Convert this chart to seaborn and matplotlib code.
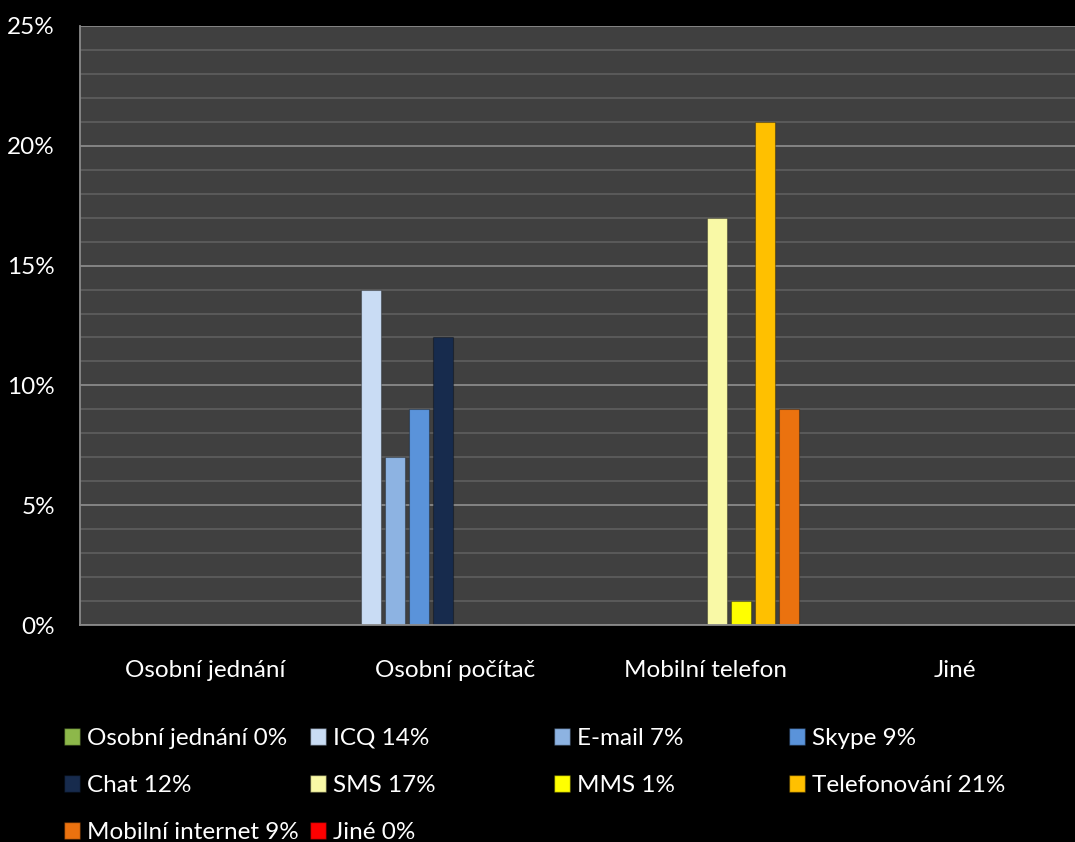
import matplotlib
matplotlib.use("Agg")
import matplotlib.pyplot as plt
import seaborn as sns
import pandas as pd
from matplotlib.ticker import MultipleLocator
from matplotlib.patches import Patch

categories = ["Osobní jednání", "Osobní počítač", "Mobilní telefon", "Jiné"]
series = ["Osobní jednání", "ICQ", "E-mail", "Skype", "Chat", "SMS", "MMS",
          "Telefonování", "Mobilní internet", "Jiné"]
series_category = ["Osobní jednání", "Osobní počítač", "Osobní počítač", "Osobní počítač",
                   "Osobní počítač", "Mobilní telefon", "Mobilní telefon", "Mobilní telefon",
                   "Mobilní telefon", "Jiné"]
values = [0, 14, 7, 9, 12, 17, 1, 21, 9, 0]
colors = ["#8DB84A", "#C9DCF4", "#8DB3E2", "#5A93DA", "#172B4D", "#F9F9A6",
          "#FFFF00", "#FFC000", "#EB720F", "#FF0000"]
ytick_labels = ["0%", "5%", "10%", "15%", "20%", "25%"]

rows = []
for s, c, v in zip(series, series_category, values):
    for cat in categories:
        rows.append({"category": cat, "series": s, "value": v if cat == c else 0})
df = pd.DataFrame(rows)

sns.set_theme(style="dark")
plt.rcParams["font.family"] = ["Lato", "DejaVu Sans"]

FS = 17.5
fig = plt.figure(figsize=(10.75, 8.42), dpi=100, facecolor="black")
ax = fig.add_axes([80 / 1075, 1 - 625 / 842, 1000 / 1075, (625 - 26) / 842])
ax.set_facecolor("#404040")

palette = dict(zip(series, colors))
sns.barplot(data=df, x="category", y="value", hue="series", order=categories,
            hue_order=series, palette=palette, width=0.96, gap=0.17,
            saturation=1, ax=ax, legend=False, errorbar=None,
            edgecolor="#00000050", linewidth=0.8)

ax.set_ylim(0, 25)
ax.yaxis.set_minor_locator(MultipleLocator(1))
ax.set_yticks([0, 5, 10, 15, 20, 25])
ax.set_yticklabels(ytick_labels)
ax.grid(True, which="major", axis="y", color="#8A8A8A", linewidth=1.3)
ax.grid(True, which="minor", axis="y", color="#5C5C5C", linewidth=1.3)
ax.grid(False, axis="x")
ax.set_axisbelow(True)
ax.set_xlim(-0.5, 3.5)

ax.tick_params(axis="y", which="both", length=0, colors="white", labelsize=FS, pad=18)
ax.tick_params(axis="x", length=0, colors="white", labelsize=FS, pad=25)
ax.set_xlabel("")
ax.set_ylabel("")
for side in ["top", "right"]:
    ax.spines[side].set_visible(False)
for side in ["left", "bottom"]:
    ax.spines[side].set_visible(True)
    ax.spines[side].set_color("#8A8A8A")
    ax.spines[side].set_linewidth(1.3)

# legend: Excel fills row-major, 4 columns
col_x = [64, 310, 554, 789]
first_row_y = 737
for ci in range(4):
    idx = [i for i in range(len(series)) if i % 4 == ci]
    handles = [Patch(facecolor=colors[i], edgecolor="#00000060") for i in idx]
    labels = [f"{series[i]} {values[i]}%" for i in idx]
    fig.legend(handles, labels, loc="upper left",
               bbox_to_anchor=(col_x[ci] / 1075, 1 - (first_row_y - 9) / 842),
               frameon=False, fontsize=FS, labelcolor="white",
               handlelength=0.66, handleheight=0.66, handletextpad=0.3,
               labelspacing=1.07, borderpad=0, borderaxespad=0)

fig.savefig("out.png", dpi=100, facecolor="black")
